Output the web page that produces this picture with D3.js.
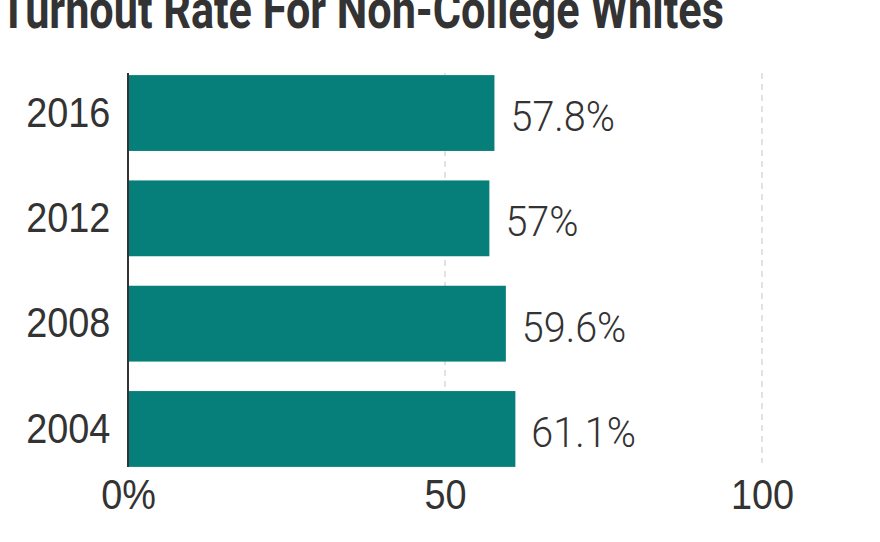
<!DOCTYPE html>
<html>
<head>
<meta charset="utf-8">
<script src="https://cdn.jsdelivr.net/npm/d3@7"></script>
<style>
  body { margin: 0; background: #fff; }
  svg { display: block; font-family: Roboto, "Liberation Sans", sans-serif; }
</style>
</head>
<body>
<div id="chart"></div>
<script>
const years = ['2016', '2012', '2008', '2004'];
const turnout = [57.8, 57, 59.6, 61.1];
const xTicks = [0, 50, 100];
const title = 'Turnout Rate For Non-College Whites';

const width = 880, height = 542;
const margin = {top: 73, left: 128, right: 118, bottom: 73};
const squeeze = 0.88; // condensed look for the labels

const svg = d3.select('#chart')
  .append('svg')
  .attr('width', width)
  .attr('height', height);

const x = d3.scaleLinear()
  .domain([0, 100])
  .range([margin.left, width - margin.right]);

const y = d3.scaleBand()
  .domain(years)
  .range([margin.top, height - margin.bottom])
  .paddingInner(0.28)
  .paddingOuter(0.02);

// title, cut off at the top like the source
const titleText = svg.append('text')
  .attr('fill', '#333')
  .style('font-size', '53px')
  .style('font-weight', 'bold')
  .text(title);
const titleLen = titleText.node().getComputedTextLength();
titleText.attr('transform', 'translate(0,28) scale(' + (724 / titleLen) + ',1)');

// dashed gridlines
svg.selectAll('.grid')
  .data(xTicks.filter((d) => d > 0))
  .enter().append('line')
  .attr('class', 'grid')
  .attr('x1', (d) => x(d))
  .attr('x2', (d) => x(d))
  .attr('y1', margin.top)
  .attr('y2', height - margin.bottom - 6)
  .attr('stroke', '#e2e2e2')
  .attr('stroke-width', 2)
  .attr('stroke-dasharray', '6,5');

const data = years.map((d, i) => ({year: d, value: turnout[i]}));

svg.selectAll('.bar')
  .data(data)
  .enter().append('rect')
  .attr('class', 'bar')
  .attr('x', x(0))
  .attr('y', (d) => y(d.year))
  .attr('width', (d) => x(d.value) - x(0))
  .attr('height', y.bandwidth())
  .attr('fill', '#067f7a');

// value labels
svg.selectAll('.value')
  .data(data)
  .enter().append('text')
  .attr('class', 'value')
  .attr('transform', (d) => 'translate(' + (x(d.value) + 16) + ',' + (y(d.year) + y.bandwidth() / 2 + 3) + ') scale(0.92,1)')
  .attr('dy', '0.35em')
  .attr('fill', '#333')
  .style('font-size', '43px')
  .style('font-weight', 300)
  .text((d) => d.value + '%');

// y axis
const yAxis = d3.axisLeft(y).tickSize(0).tickPadding(20);
const yGroup = svg.append('g')
  .attr('transform', 'translate(' + x(0) + ',0)')
  .call(yAxis);
yGroup.select('.domain').remove();
yGroup.selectAll('text')
  .attr('fill', '#333')
  .attr('transform', 'scale(' + squeeze + ',1)')
  .style('font-size', '43px')
  .style('font-weight', 300)
  .style('font-family', 'inherit');

svg.append('line')
  .attr('x1', x(0))
  .attr('x2', x(0))
  .attr('y1', margin.top)
  .attr('y2', height - margin.bottom - 2)
  .attr('stroke', '#333')
  .attr('stroke-width', 2);

// x axis
const xAxis = d3.axisBottom(x)
  .tickValues(xTicks)
  .tickSize(0)
  .tickPadding(9)
  .tickFormat((d) => d === 0 ? '0%' : d);
const xGroup = svg.append('g')
  .attr('transform', 'translate(0,' + (height - margin.bottom) + ')')
  .call(xAxis);
xGroup.select('.domain').remove();
xGroup.selectAll('text')
  .attr('fill', '#333')
  .attr('transform', 'scale(' + squeeze + ',1)')
  .style('font-size', '43px')
  .style('font-weight', 300)
  .style('font-family', 'inherit');
</script>
</body>
</html>
